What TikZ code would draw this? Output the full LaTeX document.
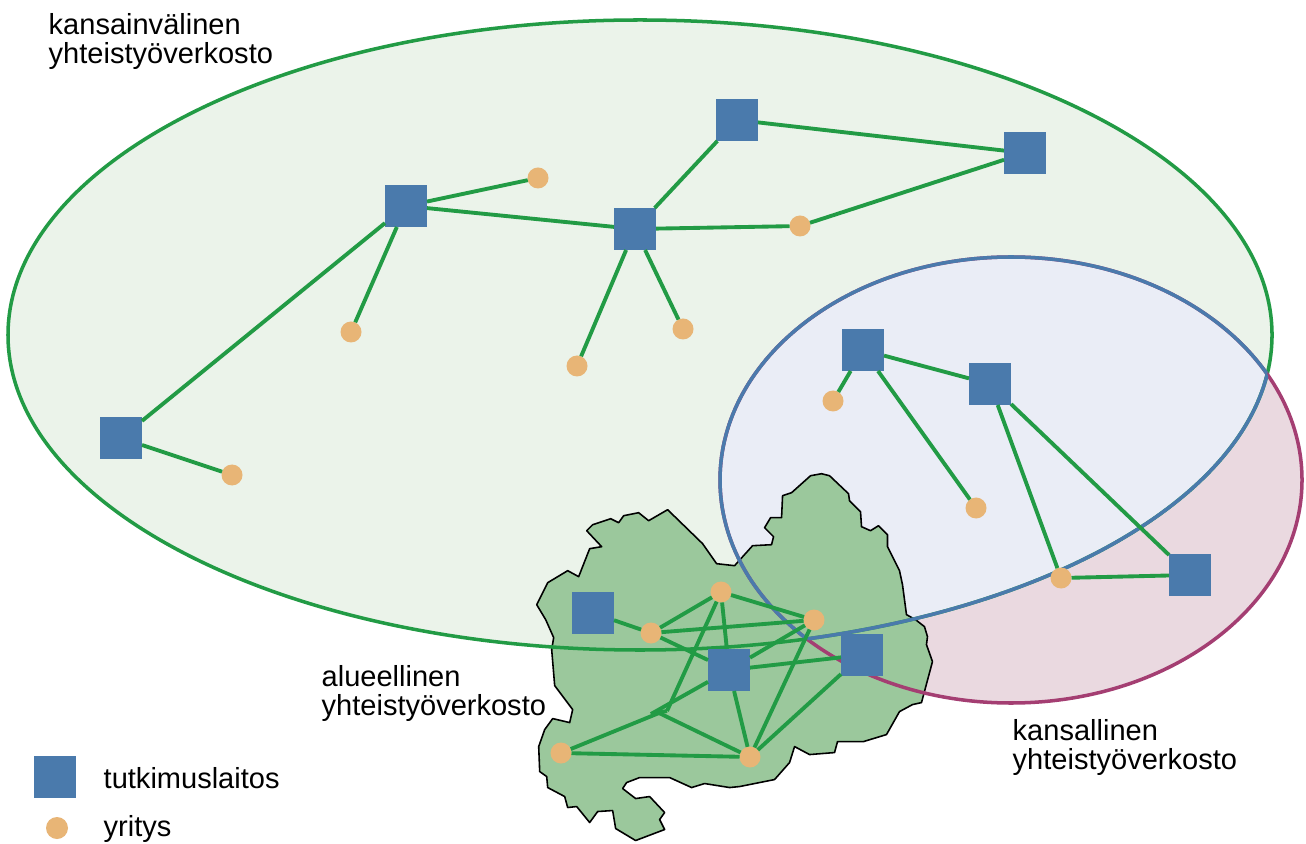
\documentclass[tikz,border=0pt]{standalone}
\usepackage{fontspec}
\setmainfont{Liberation Sans}
\usepackage{tikz-network}

\definecolor{sqblue}{RGB}{74,122,172}
\definecolor{firmorange}{RGB}{232,181,118}
\definecolor{linkgreen}{RGB}{34,155,69}
\definecolor{intlfill}{RGB}{235,243,234}
\definecolor{natfill}{RGB}{234,217,224}
\definecolor{bothfill}{RGB}{234,237,246}
\definecolor{natline}{RGB}{164,62,114}
\definecolor{mapgreen}{RGB}{155,200,156}

\SetVertexStyle[MinSize=0.21cm, FillColor=firmorange, LineOpacity=0]
\SetEdgeStyle[LineWidth=1.1pt, Color=linkgreen]

\tikzset{
  netlabel/.style={anchor=north west, align=left, inner sep=0pt,
    font=\fontsize{8.26}{8.3}\selectfont},
  legendtext/.style={anchor=base west, inner sep=0pt,
    font=\fontsize{8.26}{8.3}\selectfont}
}

\begin{document}
\begin{tikzpicture}
\useasboundingbox (0,0) rectangle (13.06,8.43);
\fill[white] (0,0) rectangle (13.06,8.43);

% areas
\fill[intlfill] (6.40,5.08) ellipse [x radius=6.32, y radius=3.15];
\fill[natfill] (10.11,3.63) ellipse [x radius=2.91, y radius=2.23];
\begin{scope}
  \clip (6.40,5.08) ellipse [x radius=6.32, y radius=3.15];
  \fill[bothfill] (10.11,3.63) ellipse [x radius=2.91, y radius=2.23];
\end{scope}

% region map
\begin{scope}[shift={(0cm,8.43cm)}, x=0.01cm, y=-0.01cm]
\filldraw[fill=mapgreen, draw=black, line width=0.45pt, line join=round]
  (587,531) -- (593,525) -- (611,519) -- (619,523) -- (624,516) -- (639,513)
  -- (649,521) -- (668,510) -- (703,544) -- (717,564) -- (735,566) -- (753,546)
  -- (772,545) -- (774,537) -- (765,528) -- (771,518) -- (782,518) -- (783,496)
  -- (792,493) -- (811,476) -- (822,474) -- (830,476) -- (849,494) -- (850,501)
  -- (861,512) -- (862,527) -- (871,531) -- (879,526) -- (888,535) -- (888,547)
  -- (900,571) -- (903,585) -- (907,615) -- (916,620) -- (925,627) -- (928,637)
  -- (927,645) -- (933,662) -- (922,703) -- (913,705) -- (900,712) -- (887,735)
  -- (864,742) -- (838,742) -- (835,753) -- (810,755) -- (795,747) -- (790,763)
  -- (775,780) -- (740,787) -- (730,788) -- (705,784) -- (692,788) -- (670,778)
  -- (640,778) -- (627,783) -- (623,789) -- (636,799) -- (650,797) -- (665,813)
  -- (660,820) -- (665,830) -- (636,841) -- (616,829) -- (613,811) -- (598,812)
  -- (590,823) -- (577,807) -- (568,808) -- (565,797) -- (548,788) -- (547,777)
  -- (540,772) -- (539,747) -- (545,730) -- (553,719) -- (570,723) -- (573,710)
  -- (555,686) -- (552,650) -- (554,638) -- (546,620) -- (537,605) -- (548,583)
  -- (568,571) -- (579,577) -- (590,549) -- (602,547) -- cycle;
\end{scope}

% outlines
\draw[linkgreen, line width=1pt] (6.40,5.08) ellipse [x radius=6.32, y radius=3.15];
\draw[natline, line width=1pt] (10.11,3.63) ellipse [x radius=2.91, y radius=2.23];
\begin{scope}
  \clip (6.40,5.08) ellipse [x radius=6.32, y radius=3.15];
  \draw[sqblue, line width=1pt] (10.11,3.63) ellipse [x radius=2.91, y radius=2.23];
\end{scope}
\begin{scope}
  \clip (10.11,3.63) ellipse [x radius=2.91, y radius=2.23];
  \draw[sqblue, line width=1pt] (6.40,5.08) ellipse [x radius=6.32, y radius=3.15];
\end{scope}

% international network
\Vertex[x=4.06, y=6.37, shape=rectangle, size=0.42, color=sqblue]{i1}
\Vertex[x=6.35, y=6.14, shape=rectangle, size=0.42, color=sqblue]{i2}
\Vertex[x=7.37, y=7.23, shape=rectangle, size=0.42, color=sqblue]{i3}
\Vertex[x=10.25, y=6.90, shape=rectangle, size=0.42, color=sqblue]{i4}
\Vertex[x=1.21, y=4.05, shape=rectangle, size=0.42, color=sqblue]{i5}
\Vertex[x=5.38, y=6.65]{y1}
\Vertex[x=3.51, y=5.11]{y2}
\Vertex[x=5.77, y=4.77]{y3}
\Vertex[x=6.83, y=5.14]{y4}
\Vertex[x=8.00, y=6.17]{y5}
\Vertex[x=2.32, y=3.68]{y6}
\Edge[NotInBG](i1)(y1)
\Edge[NotInBG](i1)(i2)
\Edge[NotInBG](i1)(y2)
\Edge[NotInBG](i1)(i5)
\Edge[NotInBG](i5)(y6)
\Edge[NotInBG](i2)(i3)
\Edge[NotInBG](i2)(y3)
\Edge[NotInBG](i2)(y4)
\Edge[NotInBG](i2)(y5)
\Edge[NotInBG](i3)(i4)
\Edge[NotInBG](y5)(i4)

% national network
\Vertex[x=8.63, y=4.93, shape=rectangle, size=0.42, color=sqblue]{n1}
\Vertex[x=9.90, y=4.59, shape=rectangle, size=0.42, color=sqblue]{n2}
\Vertex[x=11.90, y=2.68, shape=rectangle, size=0.42, color=sqblue]{n3}
\Vertex[x=8.33, y=4.42]{m1}
\Vertex[x=9.76, y=3.35]{m2}
\Vertex[x=10.61, y=2.65]{m3}
\Edge[NotInBG](n1)(n2)
\Edge[NotInBG](n1)(m1)
\Edge[NotInBG](n1)(m2)
\Edge[NotInBG](n2)(m3)
\Edge[NotInBG](n2)(n3)
\Edge[NotInBG](m3)(n3)

% regional network
\Vertex[x=5.93, y=2.30, shape=rectangle, size=0.42, color=sqblue]{r1}
\Vertex[x=7.29, y=1.73, shape=rectangle, size=0.42, color=sqblue]{r2}
\Vertex[x=8.62, y=1.88, shape=rectangle, size=0.42, color=sqblue]{r3}
\Vertex[x=6.51, y=2.10]{a1}
\Vertex[x=7.21, y=2.51]{a2}
\Vertex[x=8.14, y=2.23]{a3}
\Vertex[x=5.61, y=0.90]{a4}
\Vertex[x=7.50, y=0.86]{a5}
\coordinate (k1) at (6.67,1.32);
\coordinate (k2) at (6.51,1.29);
\coordinate (k3) at (6.59,1.30);
\Edge[NotInBG](r1)(a1)
\Edge[NotInBG](a1)(a2)
\Edge[NotInBG](a1)(a3)
\Edge[NotInBG](a1)(r2)
\Edge[NotInBG](a2)(a3)
\Edge[NotInBG](a2)(r2)
\Edge[NotInBG](a2)(k1)
\Edge[NotInBG](r2)(k2)
\Edge[NotInBG](k1)(k2)
\Edge[NotInBG](a4)(k3)
\Edge[NotInBG](k3)(a5)
\Edge[NotInBG](a3)(r2)
\Edge[NotInBG](a3)(a5)
\Edge[NotInBG](r2)(r3)
\Edge[NotInBG](r2)(a5)
\Edge[NotInBG](r3)(a5)
\Edge[NotInBG](a4)(a5)

% labels
\node[netlabel] (intl) at (0.48,8.30) {kansainvälinen\\yhteistyöverkosto};
\node[netlabel] (reg) at (3.21,1.78) {alueellinen\\yhteistyöverkosto};
\node[netlabel] (nat) at (10.12,1.24) {kansallinen\\yhteistyöverkosto};

% legend
\Vertex[x=0.55, y=0.66, shape=rectangle, size=0.42, color=sqblue]{leglab}
\Vertex[x=0.57, y=0.15, size=0.22]{legfirm}
\node[legendtext] (labtext) at (1.03,0.55) {tutkimuslaitos};
\node[legendtext] (firmtext) at (1.03,0.07) {yritys};
\end{tikzpicture}
\end{document}
